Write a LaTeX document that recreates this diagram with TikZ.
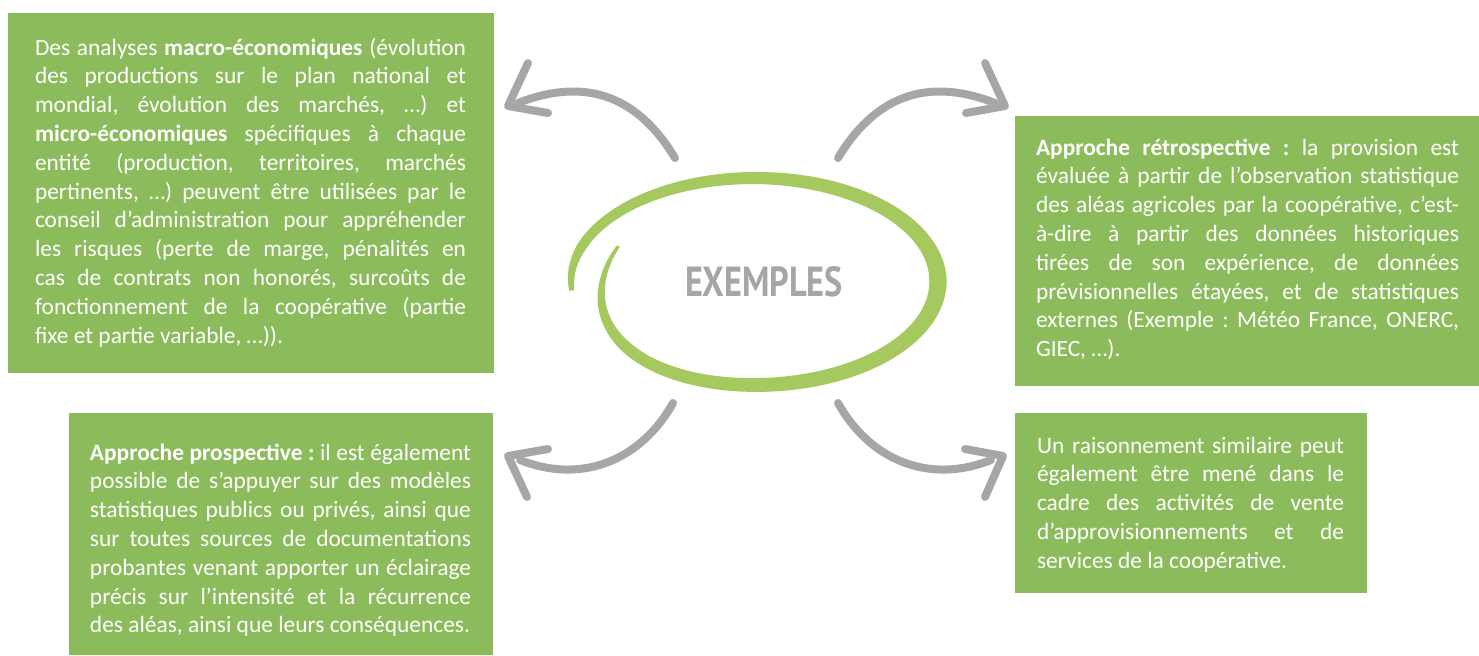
\documentclass[tikz,border=0pt]{standalone}
\usepackage{fontspec}
\setmainfont{Carlito}
\newfontfamily\exfont{PT Sans}
\usetikzlibrary{fit}
\definecolor{boxgreen}{HTML}{8CBB5B}
\definecolor{ringgreen}{HTML}{A6C95F}
\definecolor{arrowgray}{HTML}{A6A6A6}
\definecolor{titlegray}{HTML}{A6A6A6}
\newcommand\jl[1]{\leavevmode\hbox to \jlw{\spaceskip=0pt\xspaceskip=0pt #1}\\}
\newcommand\jlast[1]{\leavevmode\hbox{\spaceskip=0pt\xspaceskip=0pt #1}}
\frenchspacing
\tikzset{
  box/.style={fill=boxgreen, inner sep=0pt, draw=none},
  txt/.style={text=white, inner sep=0pt, outer sep=0pt, anchor=base west, align=left,
    text width=#1, font=\fontsize{11.7}{14.4}\selectfont\frenchspacing},
  brush/.style={draw=arrowgray, line width=4pt, line cap=round, line join=round},
  declare function={
    ew(\t)=(\t<200) ? (5+(\t-175)*0.2) : ((\t<270) ? (10+(\t-200)*0.03) : ((\t<360) ? (12+(\t-270)*0.06) : ((\t<500) ? (17.4-(\t-360)*0.04) : (11.8-(\t-500)*0.14))));
    erx(\t)=(\t<450) ? 183.5 : (183.5-(\t-450)*0.35);
  }
}
\begin{document}
\begin{tikzpicture}[x=0.5pt, y=-0.5pt]
\useasboundingbox (0,0) rectangle (1479,655);

% boxes
\node[box, fit={(8,13) (494,373)}] (b1) {};
\node[box, fit={(1015,116) (1479,386)}] (b2) {};
\node[box, fit={(69,413) (493,655)}] (b3) {};
\node[box, fit={(1015,413) (1367,593)}] (b4) {};

\node[txt=215.5pt] (t1) at (35,55) {\def\jlw{215.5pt}%
\jl{Des analyses \textbf{macro-économiques} (évolution}
\jl{des productions sur le plan national et}
\jl{mondial, évolution des marchés, …) et}
\jl{\textbf{micro-économiques} spécifiques à chaque}
\jl{entité (production, territoires, marchés}
\jl{pertinents, …) peuvent être utilisées par le}
\jl{conseil d’administration pour appréhender}
\jl{les risques (perte de marge, pénalités en}
\jl{cas de contrats non honorés, surcoûts de}
\jl{fonctionnement de la coopérative (partie}
\jlast{fixe et partie variable, …)).}};

\node[txt=211.5pt] (t2) at (1036,155) {\def\jlw{211.5pt}%
\jl{\textbf{Approche rétrospective :} la provision est}
\jl{évaluée à partir de l’observation statistique}
\jl{des aléas agricoles par la coopérative, c’est-}
\jl{à-dire à partir des données historiques}
\jl{tirées de son expérience, de données}
\jl{prévisionnelles étayées, et de statistiques}
\jl{externes (Exemple : Météo France, ONERC,}
\jlast{GIEC, …).}};

\node[txt=190.5pt] (t3) at (90,460) {\def\jlw{190.5pt}%
\jl{\textbf{Approche prospective :} il est également}
\jl{possible de s’appuyer sur des modèles}
\jl{statistiques publics ou privés, ainsi que}
\jl{sur toutes sources de documentations}
\jl{probantes venant apporter un éclairage}
\jl{précis sur l’intensité et la récurrence}
\jlast{des aléas, ainsi que leurs conséquences.}};

\node[txt=153.5pt] (t4) at (1037,453) {\def\jlw{153.5pt}%
\jl{Un raisonnement similaire peut}
\jl{également être mené dans le}
\jl{cadre des activités de vente}
\jl{d’approvisionnements et de}
\jlast{services de la coopérative.}};

% ring
\fill[ringgreen] plot[domain=175:560, samples=160, smooth]
  ({754.5+(erx(\x)+ew(\x)/2)*cos(\x)}, {281.5+(103.5+ew(\x)/2)*sin(\x)})
  -- plot[domain=560:175, samples=160, smooth]
  ({754.5+(erx(\x)-ew(\x)/2)*cos(\x)}, {281.5+(103.5-ew(\x)/2)*sin(\x)}) -- cycle;

\node[inner sep=0pt, text=titlegray] (title) at (764,282)
  {\resizebox{79pt}{15pt}{\exfont\bfseries EXEMPLES}};

% arrows
\coordinate (a1s) at (675,158); \coordinate (a1e) at (518,103);
\coordinate (a1t) at (508,106); \coordinate (a1u) at (528,63); \coordinate (a1v) at (548,113);
\draw[brush] (a1s) .. controls (640,100) and (590,75) .. (a1e);
\draw[brush] (a1u) -- (a1t) -- (a1v);

\coordinate (a2s) at (838,158); \coordinate (a2e) at (995,103);
\coordinate (a2t) at (1005,106); \coordinate (a2u) at (985,63); \coordinate (a2v) at (966,113);
\draw[brush] (a2s) .. controls (873,100) and (923,75) .. (a2e);
\draw[brush] (a2u) -- (a2t) -- (a2v);

\coordinate (a3s) at (673,403); \coordinate (a3e) at (520,460);
\coordinate (a3t) at (508,456); \coordinate (a3u) at (548,449); \coordinate (a3v) at (527,497);
\draw[brush] (a3s) .. controls (640,462) and (580,484) .. (a3e);
\draw[brush] (a3u) -- (a3t) -- (a3v);

\coordinate (a4s) at (838,403); \coordinate (a4e) at (991,460);
\coordinate (a4t) at (1003,456); \coordinate (a4u) at (965,449); \coordinate (a4v) at (985,497);
\draw[brush] (a4s) .. controls (871,462) and (931,484) .. (a4e);
\draw[brush] (a4u) -- (a4t) -- (a4v);
\end{tikzpicture}
\end{document}
